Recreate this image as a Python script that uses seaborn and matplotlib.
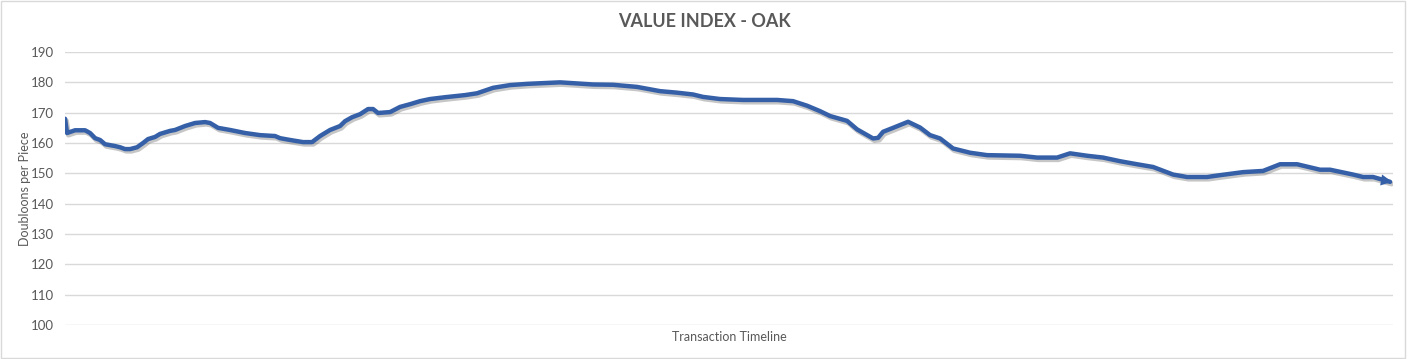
import matplotlib.pyplot as plt
import matplotlib.patheffects as pe
from matplotlib.patches import Rectangle
import seaborn as sns
import pandas as pd

# Transaction position along the timeline and the value index at that point
transactions = [0, 2, 10, 20, 25, 30, 35, 40, 50, 55, 60, 65, 72, 78, 83, 90, 95, 105,
                110, 120, 130, 140, 145, 153, 165, 180, 195, 210, 215, 225, 238, 247,
                255, 265, 275, 280, 287, 295, 303, 308, 313, 325, 335, 345, 355, 365,
                380, 400, 412, 428, 445, 462, 495, 528, 548, 572, 595, 612, 628, 638,
                655, 678, 712, 728, 742, 755, 765, 782, 792, 808, 813, 818, 828, 843,
                855, 865, 875, 888, 905, 922, 955, 972, 992, 1005, 1022, 1038, 1055,
                1072, 1088, 1108, 1122, 1142, 1155, 1178, 1198, 1215, 1232, 1255, 1265,
                1288, 1298, 1308, 1325]
values = [168.0, 163.3, 164.2, 164.2, 163.3, 161.6, 161.0, 159.6, 159.0, 158.6, 158.0,
          158.0, 158.6, 160.0, 161.3, 162.0, 163.0, 164.0, 164.3, 165.6, 166.6, 166.9,
          166.6, 165.0, 164.3, 163.3, 162.6, 162.3, 161.6, 161.0, 160.3, 160.3, 162.3,
          164.3, 165.6, 167.2, 168.5, 169.5, 171.2, 171.2, 169.9, 170.2, 171.9, 172.8,
          173.8, 174.5, 175.1, 175.8, 176.4, 178.2, 179.1, 179.5, 180.0, 179.3, 179.2,
          178.5, 177.1, 176.6, 176.0, 175.2, 174.5, 174.2, 174.2, 173.8, 172.3, 170.5,
          168.9, 167.3, 164.5, 161.5, 161.7, 163.7, 165.0, 167.0, 165.1, 162.6, 161.5,
          158.2, 156.8, 156.0, 155.8, 155.2, 155.2, 156.6, 155.8, 155.2, 154.0, 153.0,
          152.1, 149.6, 148.8, 148.8, 149.4, 150.4, 150.8, 153.0, 153.0, 151.2, 151.2,
          149.6, 148.8, 148.8, 147.2]
y_ticks = [100, 110, 120, 130, 140, 150, 160, 170, 180, 190]

df = pd.DataFrame({'Transaction': transactions, 'Value': values})

sns.set_style("white")
plt.rcParams['font.family'] = ['Lato', 'DejaVu Sans']

fig = plt.figure(figsize=(14.08, 3.59), dpi=100)
ax = fig.add_axes([0.0462, 0.0947, 0.9432, 0.7604])

line_color = '#3560A8'
text_color = '#595959'

sns.lineplot(data=df, x='Transaction', y='Value', ax=ax, color=line_color,
             linewidth=3.2, solid_joinstyle='round', solid_capstyle='round',
             path_effects=[pe.SimpleLineShadow(offset=(1.0, -1.5), alpha=0.3,
                                               shadow_color='#444444', linewidth=3.6),
                           pe.Normal()])

# arrow head at the end of the line
ax.annotate('', xy=(transactions[-1] + 2, values[-1]),
            xytext=(transactions[-3], values[-3]),
            arrowprops=dict(arrowstyle='-|>', color=line_color, lw=0,
                            mutation_scale=20, shrinkA=0, shrinkB=0))

ax.set_xlim(0, transactions[-1] + 3)
ax.set_ylim(100, 190)
ax.set_yticks(y_ticks)
ax.set_xticks([])
ax.grid(axis='y', color='#D9D9D9', linewidth=1)
ax.set_axisbelow(True)
for s in ax.spines.values():
    s.set_visible(False)
ax.tick_params(axis='y', length=0, labelsize=9.5, labelcolor=text_color, pad=8)

ax.set_xlabel('Transaction Timeline', fontsize=9, color=text_color, labelpad=4)
ax.set_ylabel('Doubloons per Piece', fontsize=9, color=text_color)
ax.yaxis.set_label_coords(-0.026, 0.5)

fig.suptitle('VALUE INDEX - OAK', x=0.5, y=0.965, fontsize=13,
             fontweight='bold', color=text_color)

# light chart border
fig.patches.append(Rectangle((0.001, 0.002), 0.997, 0.995, transform=fig.transFigure,
                             fill=False, edgecolor='#D9D9D9', linewidth=1))

fig.savefig('out.png', dpi=100)
plt.close(fig)
